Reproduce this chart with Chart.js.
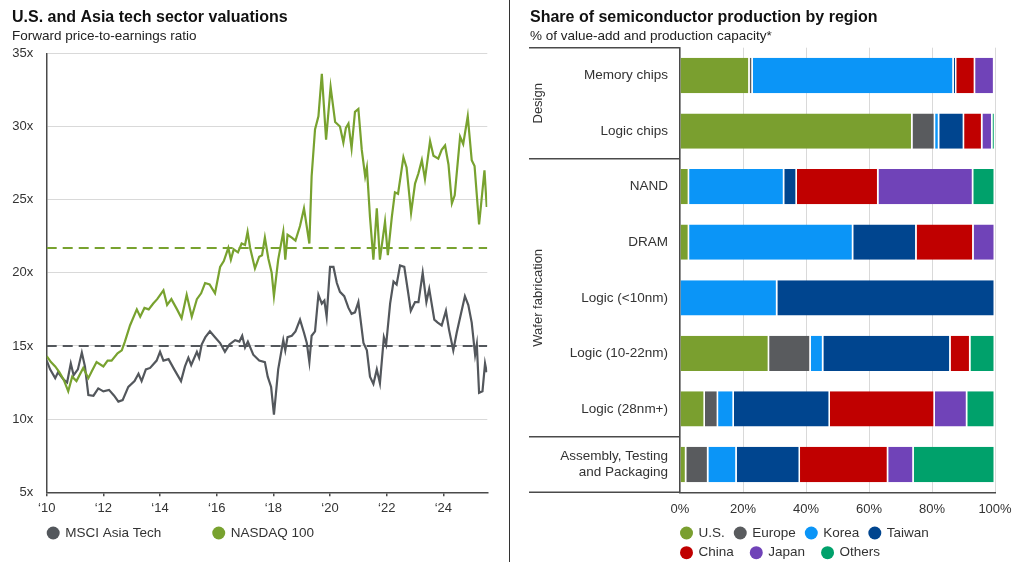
<!DOCTYPE html>
<html>
<head>
<meta charset="utf-8">
<script src="https://cdn.jsdelivr.net/npm/chart.js@4.4.1/dist/chart.umd.min.js"></script>
<style>
  body { margin: 0; background: #fff; }
  #left { position: absolute; left: 0; top: 0; }
  #right { position: absolute; left: 512px; top: 0; }
</style>
</head>
<body>
<canvas id="left" width="512" height="572"></canvas>
<canvas id="right" width="512" height="572"></canvas>
<script>
// left chart data: forward P/E
const nasdaqYears = [2010.0, 2010.15, 2010.3, 2010.45, 2010.6, 2010.76, 2010.9, 2011.05, 2011.29, 2011.47, 2011.6, 2011.76, 2012.0, 2012.15, 2012.29, 2012.5, 2012.65, 2012.76, 2012.94, 2013.18, 2013.3, 2013.45, 2013.6, 2013.76, 2013.9, 2014.12, 2014.25, 2014.4, 2014.6, 2014.76, 2014.94, 2015.12, 2015.3, 2015.45, 2015.59, 2015.75, 2015.94, 2016.12, 2016.25, 2016.41, 2016.5, 2016.6, 2016.75, 2016.88, 2017.0, 2017.09, 2017.18, 2017.35, 2017.5, 2017.6, 2017.7, 2017.82, 2017.94, 2018.02, 2018.17, 2018.35, 2018.42, 2018.5, 2018.65, 2018.78, 2018.94, 2019.08, 2019.27, 2019.35, 2019.47, 2019.59, 2019.71, 2019.86, 2020.02, 2020.18, 2020.35, 2020.47, 2020.56, 2020.65, 2020.76, 2020.88, 2021.0, 2021.12, 2021.24, 2021.3, 2021.41, 2021.53, 2021.65, 2021.76, 2021.94, 2022.04, 2022.18, 2022.29, 2022.4, 2022.59, 2022.7, 2022.86, 2023.0, 2023.12, 2023.24, 2023.35, 2023.53, 2023.65, 2023.82, 2023.94, 2024.06, 2024.18, 2024.3, 2024.4, 2024.59, 2024.7, 2024.86, 2025.0, 2025.1, 2025.26, 2025.45, 2025.53];
const nasdaqPE = [14.3, 13.9, 13.6, 13.2, 12.7, 11.9, 12.9, 12.6, 13.5, 12.8, 13.3, 13.9, 13.6, 14.0, 14.0, 14.5, 14.7, 15.3, 16.4, 17.5, 17.0, 17.6, 17.5, 17.9, 18.2, 18.8, 17.8, 18.2, 17.5, 16.9, 18.5, 17.0, 18.2, 18.6, 19.3, 19.2, 18.6, 20.4, 20.8, 21.7, 20.9, 21.6, 21.4, 22.0, 21.9, 22.8, 21.7, 20.3, 21.1, 21.2, 22.4, 21.0, 20.0, 18.4, 20.9, 22.8, 20.9, 22.6, 22.4, 22.2, 23.2, 24.4, 22.0, 26.6, 29.8, 30.7, 33.6, 29.1, 32.7, 30.3, 30.0, 28.9, 29.9, 30.2, 28.5, 31.0, 31.2, 28.4, 26.6, 27.2, 23.8, 20.9, 24.4, 20.9, 23.5, 21.2, 23.8, 25.5, 25.4, 27.9, 27.2, 24.1, 26.1, 26.8, 27.7, 26.4, 29.0, 28.0, 27.8, 28.4, 28.7, 27.4, 24.75, 25.3, 29.3, 28.8, 30.7, 27.7, 27.3, 23.3, 27.0, 24.5];

const msciYears = [2010.0, 2010.12, 2010.3, 2010.4, 2010.6, 2010.72, 2010.85, 2010.95, 2011.1, 2011.24, 2011.35, 2011.47, 2011.65, 2011.82, 2012.0, 2012.2, 2012.38, 2012.53, 2012.68, 2012.88, 2013.1, 2013.24, 2013.35, 2013.5, 2013.65, 2013.88, 2014.0, 2014.12, 2014.3, 2014.5, 2014.74, 2014.88, 2015.0, 2015.1, 2015.3, 2015.38, 2015.47, 2015.6, 2015.76, 2015.94, 2016.12, 2016.29, 2016.45, 2016.65, 2016.8, 2016.9, 2017.0, 2017.1, 2017.29, 2017.5, 2017.7, 2017.8, 2017.92, 2018.02, 2018.17, 2018.35, 2018.42, 2018.5, 2018.65, 2018.78, 2018.94, 2019.08, 2019.18, 2019.27, 2019.35, 2019.47, 2019.59, 2019.71, 2019.8, 2019.88, 2020.0, 2020.12, 2020.24, 2020.35, 2020.5, 2020.65, 2020.76, 2020.88, 2021.0, 2021.18, 2021.3, 2021.41, 2021.53, 2021.65, 2021.76, 2021.9, 2021.98, 2022.12, 2022.24, 2022.35, 2022.47, 2022.62, 2022.76, 2022.85, 2023.0, 2023.12, 2023.27, 2023.4, 2023.5, 2023.68, 2023.8, 2023.94, 2024.09, 2024.2, 2024.35, 2024.47, 2024.62, 2024.76, 2024.88, 2025.0, 2025.12, 2025.18, 2025.26, 2025.38, 2025.47, 2025.53];
const msciPE = [14.0, 13.4, 12.8, 13.2, 12.7, 12.5, 13.8, 13.0, 13.4, 14.55, 13.6, 11.65, 11.6, 12.1, 11.9, 12.0, 11.6, 11.2, 11.3, 12.2, 12.6, 13.1, 12.6, 13.4, 13.5, 14.0, 14.6, 14.0, 14.1, 13.4, 12.6, 13.6, 14.2, 13.7, 14.6, 14.2, 15.1, 15.6, 16.0, 15.6, 15.2, 14.6, 15.1, 15.4, 15.3, 15.7, 14.9, 15.3, 14.4, 14.0, 13.9, 12.9, 12.2, 10.3, 13.4, 15.4, 14.7, 15.6, 15.7, 16.0, 16.8, 15.9, 15.2, 13.9, 15.7, 16.0, 18.5, 17.9, 18.1, 17.0, 20.4, 20.4, 19.3, 18.7, 18.4, 17.6, 17.2, 17.3, 18.0, 15.2, 14.7, 12.9, 12.4, 13.4, 12.45, 15.6, 15.1, 17.9, 19.4, 19.2, 20.5, 20.4, 18.6, 17.4, 18.0, 18.0, 20.0, 18.0, 18.9, 16.8, 16.6, 16.4, 17.4, 16.1, 14.7, 15.9, 17.2, 18.4, 17.8, 16.6, 14.4, 15.1, 11.8, 11.9, 13.8, 13.2];

const nasdaqAvg = 21.7;
const msciAvg = 15.0;
const yearTicks = [2010, 2012, 2014, 2016, 2018, 2020, 2022, 2024];
const seriesNames = ['MSCI Asia Tech', 'NASDAQ 100'];
const seriesColors = ['#53575c', '#78a22f'];

// right chart data: share by region (%)
const stages = ['Memory chips', 'Logic chips', 'NAND', 'DRAM', 'Logic (<10nm)', 'Logic (10-22nm)', 'Logic (28nm+)', ['Assembly, Testing', 'and Packaging']];
const regions = ['U.S.', 'Europe', 'Korea', 'Taiwan', 'China', 'Japan', 'Others'];
const regionColors = ['#7a9f2f', '#595b5e', '#0b95f7', '#00458f', '#c00000', '#7043b8', '#00a16b'];
const usShare     = [22.1, 73.8, 2.9, 2.9, 0, 28.3, 7.9, 2.0];
const europeShare = [1.0, 7.2, 0, 0, 0, 13.2, 4.2, 7.0];
const koreaShare  = [63.8, 1.3, 30.2, 52.1, 30.9, 4.0, 5.0, 9.0];
const taiwanShare = [0.8, 7.9, 4.0, 20.1, 69.1, 40.4, 30.5, 20.1];
const chinaShare  = [6.0, 5.8, 25.9, 18.1, 0, 6.3, 33.3, 28.0];
const japanShare  = [6.1, 3.2, 30.1, 6.8, 0, 0, 10.3, 8.1];
const othersShare = [0, 0.8, 6.9, 0, 0, 7.8, 8.8, 25.8];
const groupNames = ['Design', 'Wafer fabrication'];
const groupStart = [0, 2];
const groupEnd = [1, 6];

Chart.defaults.font.family = "'Liberation Sans', Arial, sans-serif";
Chart.defaults.color = '#333';

const axisColor = '#4a4a4a';
const gridColor = '#d9d9d9';

// legend with round dots, drawn below the chart area
const dotLegend = {
  id: 'dotLegend',
  afterDraw(chart, args, opts) {
    const { ctx, chartArea } = chart;
    ctx.save();
    ctx.font = opts.font;
    ctx.textBaseline = 'middle';
    opts.rows.forEach(row => {
      let x = chartArea.left;
      row.items.forEach(i => {
        ctx.fillStyle = opts.colors[i];
        ctx.beginPath();
        ctx.arc(x + 6.5, row.y, 6.5, 0, Math.PI * 2);
        ctx.fill();
        ctx.fillStyle = '#333';
        ctx.fillText(opts.labels[i], x + 18.5, row.y);
        x += 18.5 + ctx.measureText(opts.labels[i]).width + row.gap;
      });
    });
    ctx.restore();
  }
};

const separator = {
  id: 'separator',
  afterDraw(chart) {
    const { ctx } = chart;
    ctx.save();
    ctx.strokeStyle = '#333';
    ctx.lineWidth = 1;
    ctx.beginPath();
    ctx.moveTo(509.5, 0);
    ctx.lineTo(509.5, 562);
    ctx.stroke();
    ctx.restore();
  }
};

const groupBrackets = {
  id: 'groupBrackets',
  afterDraw(chart) {
    const { ctx, chartArea } = chart;
    const y = chart.scales.y;
    const x0 = 17;
    const edge = i => (y.getPixelForValue(i) + y.getPixelForValue(i + 1)) / 2;
    ctx.save();
    ctx.strokeStyle = axisColor;
    ctx.lineWidth = 1.5;
    const rows = [chartArea.top, chartArea.bottom].concat(groupEnd.map(edge));
    rows.forEach(py => {
      ctx.beginPath();
      ctx.moveTo(x0, py);
      ctx.lineTo(chartArea.left, py);
      ctx.stroke();
    });
    ctx.fillStyle = '#333';
    ctx.font = "13px 'Liberation Sans', Arial, sans-serif";
    ctx.textAlign = 'center';
    ctx.textBaseline = 'middle';
    groupNames.forEach((name, g) => {
      const top = groupStart[g] === 0 ? chartArea.top : edge(groupStart[g] - 1);
      const bottom = edge(groupEnd[g]);
      ctx.save();
      ctx.translate(26.5, (top + bottom) / 2);
      ctx.rotate(-Math.PI / 2);
      ctx.fillText(name, 0, 0);
      ctx.restore();
    });
    ctx.restore();
  }
};

const toPoints = (xs, ys) => xs.map((x, i) => ({ x: x, y: ys[i] }));
const xMin = 2010;
const xMax = 2025.55;

new Chart(document.getElementById('left'), {
  type: 'line',
  data: {
    datasets: [
      {
        label: 'NASDAQ 100 average',
        data: [{ x: xMin, y: nasdaqAvg }, { x: xMax, y: nasdaqAvg }],
        borderColor: seriesColors[1],
        borderWidth: 2,
        borderDash: [10, 6]
      },
      {
        label: 'MSCI Asia Tech average',
        data: [{ x: xMin, y: msciAvg }, { x: xMax, y: msciAvg }],
        borderColor: seriesColors[0],
        borderWidth: 2,
        borderDash: [10, 6]
      },
      {
        label: seriesNames[1],
        data: toPoints(nasdaqYears, nasdaqPE),
        borderColor: seriesColors[1],
        borderWidth: 2.2
      },
      {
        label: seriesNames[0],
        data: toPoints(msciYears, msciPE),
        borderColor: seriesColors[0],
        borderWidth: 2.2
      }
    ]
  },
  options: {
    responsive: false,
    animation: false,
    elements: { point: { radius: 0 }, line: { tension: 0 } },
    layout: { padding: { left: 12, right: 24.7, top: 0, bottom: 49.7 } },
    plugins: {
      legend: { display: false },
      tooltip: { enabled: false },
      title: {
        display: true,
        text: 'U.S. and Asia tech sector valuations',
        align: 'start',
        color: '#111',
        font: { size: 16, weight: 'bold' },
        padding: { top: 7.9, bottom: 0 }
      },
      subtitle: {
        display: true,
        text: 'Forward price-to-earnings ratio',
        align: 'start',
        color: '#222',
        font: { size: 13.5 },
        padding: { top: 0.8, bottom: 9.2 }
      },
      dotLegend: {
        font: "13.5px 'Liberation Sans', Arial, sans-serif",
        labels: seriesNames,
        colors: seriesColors,
        rows: [{ items: [0, 1], y: 533, gap: 51 }]
      }
    },
    scales: {
      x: {
        type: 'linear',
        min: xMin,
        max: xMax,
        afterBuildTicks: s => { s.ticks = yearTicks.map(v => ({ value: v })); },
        afterFit: s => { s.height = 30; },
        ticks: {
          callback: v => '\u2018' + String(v).slice(2),
          font: { size: 13 },
          padding: 4,
          maxRotation: 0
        },
        grid: { drawOnChartArea: false, color: axisColor, tickLength: 4, lineWidth: 1.5 },
        border: { color: axisColor, width: 1.5 }
      },
      y: {
        min: 5,
        max: 35,
        afterFit: s => { s.width = 34.7; },
        ticks: {
          stepSize: 5,
          callback: v => v + 'x',
          font: { size: 13 },
          padding: 13.4
        },
        grid: { color: gridColor, drawTicks: false },
        border: { color: axisColor, width: 1.5 }
      }
    }
  },
  plugins: [dotLegend, separator]
});

const shares = [usShare, europeShare, koreaShare, taiwanShare, chinaShare, japanShare, othersShare];

new Chart(document.getElementById('right'), {
  type: 'bar',
  data: {
    labels: stages,
    datasets: regions.map((name, i) => ({
      label: name,
      data: shares[i],
      backgroundColor: regionColors[i],
      borderColor: '#fff',
      borderWidth: { top: 0, bottom: 0, left: 0, right: 1.5 },
      borderSkipped: false,
      barPercentage: 0.635,
      categoryPercentage: 1
    }))
  },
  options: {
    indexAxis: 'y',
    responsive: false,
    animation: false,
    layout: { padding: { left: 18, right: 29, top: 0, bottom: 49.7 } },
    plugins: {
      legend: { display: false },
      tooltip: { enabled: false },
      title: {
        display: true,
        text: 'Share of semiconductor production by region',
        align: 'start',
        color: '#111',
        font: { size: 16, weight: 'bold' },
        padding: { top: 7.9, bottom: 0 }
      },
      subtitle: {
        display: true,
        text: '% of value-add and production capacity*',
        align: 'start',
        color: '#222',
        font: { size: 13.5 },
        padding: { top: 0.8, bottom: 3.6 }
      },
      dotLegend: {
        font: "13.5px 'Liberation Sans', Arial, sans-serif",
        labels: regions,
        colors: regionColors,
        rows: [
          { items: [0, 1, 2, 3], y: 533, gap: 9 },
          { items: [4, 5, 6], y: 552.7, gap: 16 }
        ]
      }
    },
    scales: {
      x: {
        stacked: true,
        min: 0,
        max: 100,
        afterFit: s => { s.height = 30; },
        ticks: {
          stepSize: 20,
          callback: v => v + '%',
          font: { size: 13 },
          padding: 9
        },
        grid: { color: gridColor, drawTicks: false },
        border: { color: axisColor, width: 1.5 }
      },
      y: {
        stacked: true,
        afterFit: s => { s.width = 150; },
        ticks: { font: { size: 13.5 }, padding: 4, color: '#333' },
        grid: { display: false },
        border: { display: true, color: axisColor, width: 1.5 }
      }
    }
  },
  plugins: [dotLegend, groupBrackets]
});
</script>
</body>
</html>
